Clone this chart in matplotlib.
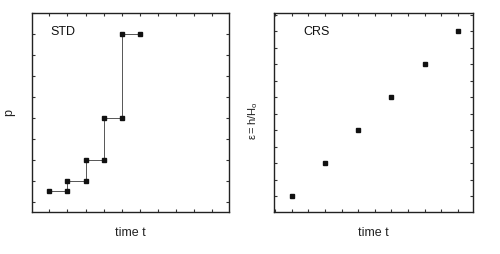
import matplotlib
matplotlib.use("Agg")
import matplotlib.pyplot as plt
from matplotlib.ticker import MultipleLocator, NullFormatter

plt.rcParams['font.family'] = ['Liberation Sans', 'DejaVu Sans']
plt.rcParams['mathtext.fontset'] = 'custom'
plt.rcParams['mathtext.rm'] = 'Liberation Sans'
plt.rcParams['mathtext.it'] = 'Liberation Sans'

# STD: stepwise loading p vs time
std_t = [1, 2, 2, 3, 3, 4, 4, 5, 5, 6]
std_p = [1.5, 1.5, 2, 2, 3, 3, 5, 5, 9, 9]

# CRS: strain vs time
crs_t = [1, 2, 3, 4, 5, 6]
crs_e = [1, 2, 3, 4, 5, 6]

fig = plt.figure(figsize=(5.0, 2.54), dpi=100)
ax1 = fig.add_axes([0.064, 0.1654, 0.3947, 0.782])
ax2 = fig.add_axes([0.548, 0.1654, 0.3987, 0.782])

for ax in (ax1, ax2):
    for s in ax.spines.values():
        s.set_linewidth(1.0)
        s.set_color('#222222')
    ax.tick_params(direction='in', length=2.5, width=0.8, top=True, right=True,
                   labelbottom=False, labelleft=False, color='#333333')
    ax.xaxis.set_major_formatter(NullFormatter())
    ax.yaxis.set_major_formatter(NullFormatter())

# Left panel
ax1.plot(std_t, std_p, '-', color='#555555', lw=0.7, zorder=1)
ax1.plot(std_t, std_p, 's', color='#111111', ms=3.2, ls='none', zorder=2)
ax1.set_xlim(0.04, 10.94)
ax1.set_ylim(0.5, 10)
ax1.xaxis.set_major_locator(MultipleLocator(1))
ax1.yaxis.set_major_locator(MultipleLocator(1))
ax1.set_xlabel('time t', fontsize=9, labelpad=11, color='#222222')
ax1.set_ylabel('p', fontsize=9, labelpad=12, color='#222222')
ax1.text(0.095, 0.935, 'STD', transform=ax1.transAxes, fontsize=9,
         va='top', ha='left', color='#111111')

# Right panel
ax2.plot(crs_t, crs_e, 's', color='#111111', ms=3.2, ls='none')
ax2.set_xlim(0.47, 6.46)
ax2.set_ylim(0.52, 6.54)
ax2.xaxis.set_major_locator(MultipleLocator(0.5))
ax2.yaxis.set_major_locator(MultipleLocator(0.5))
ax2.set_xlabel('time t', fontsize=9, labelpad=11, color='#222222')
ax2.set_ylabel(r'$\mathrm{\varepsilon=h/H_o}$', fontsize=8, color='#222222')
ax2.yaxis.set_label_coords(-0.07, 0.46)
ax2.text(0.145, 0.935, 'CRS', transform=ax2.transAxes, fontsize=9,
         va='top', ha='left', color='#111111')

fig.savefig('out.png', dpi=100)
